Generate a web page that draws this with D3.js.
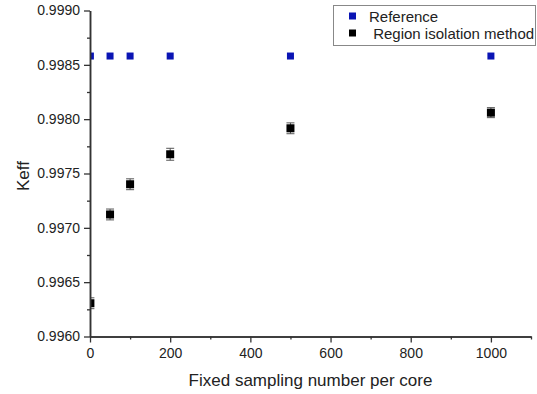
<!DOCTYPE html>
<html><head><meta charset="utf-8">
<script src="https://cdn.jsdelivr.net/npm/d3@7/dist/d3.min.js"></script>
<style>body{margin:0;background:#fff}svg{display:block}text{font-family:"Liberation Sans",Arial,sans-serif;fill:#222}</style>
</head><body>
<svg id="c" width="537" height="394"></svg>
<script>
const refX = [1, 50, 100, 200, 500, 1000];
const refY = [0.998581, 0.998581, 0.998581, 0.998581, 0.998581, 0.998581];
const rimX = [1, 50, 100, 200, 500, 1000];
const rimY = [0.996306, 0.997123, 0.997401, 0.997677, 0.997916, 0.998060];
const rimErr = [0.00005, 0.00005, 0.00005, 0.000055, 0.00005, 0.000046];
const xTicks = [0, 200, 400, 600, 800, 1000];
const yTicks = [0.9960, 0.9965, 0.9970, 0.9975, 0.9980, 0.9985, 0.9990];
const seriesNames = ["Reference", " Region isolation method"];

const svg = d3.select("#c");
const L = 90, R = 531, T = 10.5, B = 336.5;
const x = d3.scaleLinear().domain([0, 1100]).range([L, R]);
const y = d3.scaleLinear().domain([0.9960, 0.9990]).range([B, T]);
const axCol = "#333";

svg.append("defs").append("clipPath").attr("id", "clip")
  .append("rect").attr("x", L).attr("y", T - 10).attr("width", R - L + 10).attr("height", B - T + 10);

const gp = svg.append("g").attr("clip-path", "url(#clip)");

rimX.forEach((d, i) => {
  const cx = x(d), y1 = y(rimY[i] + rimErr[i]), y2 = y(rimY[i] - rimErr[i]);
  gp.append("line").attr("x1", cx).attr("x2", cx).attr("y1", y1).attr("y2", y2).attr("stroke", "#555").attr("stroke-width", 1);
  [y1, y2].forEach(yy => gp.append("line").attr("x1", cx - 4).attr("x2", cx + 4).attr("y1", yy).attr("y2", yy).attr("stroke", "#555").attr("stroke-width", 1));
});
gp.selectAll("rect.rim").data(rimX).join("rect").attr("class", "rim")
  .attr("x", d => x(d) - 4).attr("y", (d, i) => y(rimY[i]) - 4).attr("width", 8).attr("height", 8).attr("fill", "#000");
gp.selectAll("rect.ref").data(refX).join("rect").attr("class", "ref")
  .attr("x", d => x(d) - 3.5).attr("y", (d, i) => y(refY[i]) - 3.5).attr("width", 7).attr("height", 7).attr("fill", "#0a14b4");

const xa = svg.append("g").attr("transform", `translate(0,${B})`)
  .call(d3.axisBottom(x).tickValues(xTicks).tickFormat(d3.format("d")).tickSize(6).tickSizeOuter(0));
const xm = svg.append("g").attr("transform", `translate(0,${B})`)
  .call(d3.axisBottom(x).tickValues(d3.range(100, 1101, 200)).tickFormat("").tickSize(3).tickSizeOuter(0));
const ya = svg.append("g").attr("transform", `translate(${L},0)`)
  .call(d3.axisLeft(y).tickValues(yTicks).tickFormat(d3.format(".4f")).tickSize(6).tickSizeOuter(0));
const ym = svg.append("g").attr("transform", `translate(${L},0)`)
  .call(d3.axisLeft(y).tickValues(d3.range(6).map(i => 0.99625 + i * 0.0005)).tickFormat("").tickSize(3).tickSizeOuter(0));
[xa, xm, ya, ym].forEach(g => {
  g.select(".domain").attr("stroke", axCol).attr("stroke-width", 1.5);
  g.selectAll(".tick line").attr("stroke", axCol).attr("stroke-width", 1.3);
  g.selectAll(".tick text").attr("font-size", 14).attr("fill", "#1a1a1a").style("font-family", '"Liberation Sans",Arial,sans-serif');
});
xa.selectAll(".tick text").attr("dy", "0.95em").attr("y", 8);
ya.selectAll(".tick text").attr("x", -10);

svg.append("text").attr("x", (L + R) / 2).attr("y", 386).attr("text-anchor", "middle").attr("font-size", 17).attr("fill", "#1a1a1a").text("Fixed sampling number per core");
svg.append("text").attr("transform", "translate(29,176) rotate(-90)").attr("text-anchor", "middle").attr("font-size", 17).attr("fill", "#1a1a1a").text("Keff");

const lg = svg.append("g");
lg.append("rect").attr("x", 333.5).attr("y", 5.5).attr("width", 202).attr("height", 40).attr("fill", "#fff").attr("stroke", "#888").attr("stroke-width", 1);
const lcol = ["#0a14b4", "#000"];
const ly = [16, 33];
const lx = [369, 369];
seriesNames.forEach((n, i) => {
  lg.append("rect").attr("x", 349).attr("y", ly[i] - 3.5).attr("width", 7).attr("height", 7).attr("fill", lcol[i]);
  lg.append("text").attr("x", lx[i]).attr("y", ly[i] + 5.5).attr("font-size", 15).attr("fill", "#000").attr("xml:space", "preserve").text(n);
});
</script>
</body></html>
